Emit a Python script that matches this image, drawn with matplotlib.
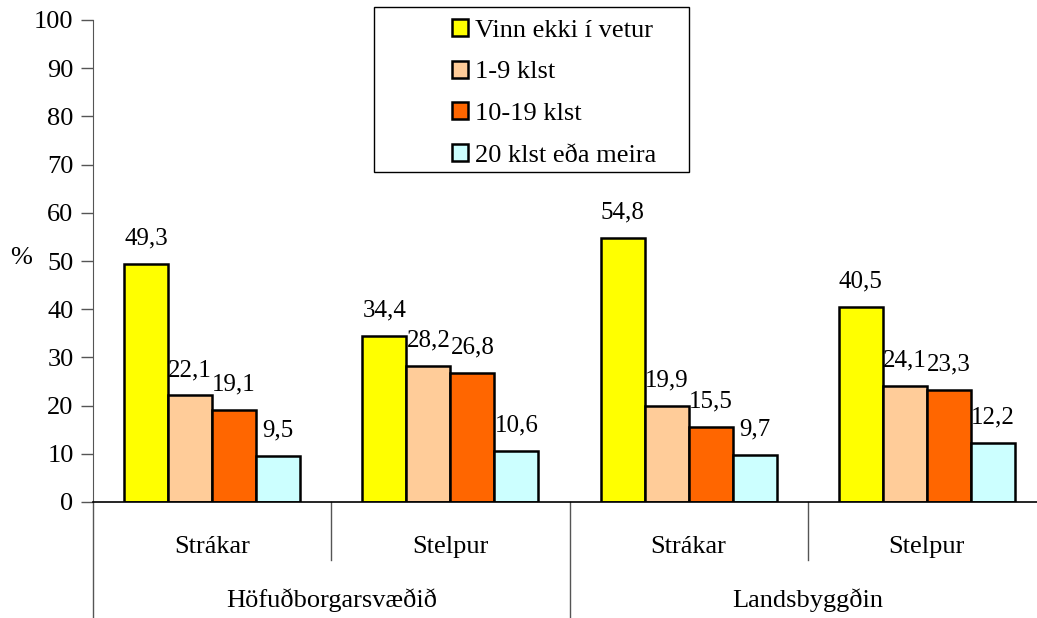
import matplotlib.pyplot as plt
from matplotlib.patches import Rectangle
import numpy as np

# Datos
grupos = ['Strákar', 'Stelpur', 'Strákar', 'Stelpur']
regiones = ['Höfuðborgarsvæðið', 'Landsbyggðin']
series = ['Vinn ekki í vetur', '1-9 klst', '10-19 klst', '20 klst eða meira']
vinn_ekki = [49.3, 34.4, 54.8, 40.5]
klst_1_9 = [22.1, 28.2, 19.9, 24.1]
klst_10_19 = [19.1, 26.8, 15.5, 23.3]
klst_20 = [9.5, 10.6, 9.7, 12.2]
colores = ['#FFFF00', '#FFCC99', '#FF6600', '#CCFFFF']

plt.rcParams['font.family'] = ['Liberation Serif', 'DejaVu Serif']

fig = plt.figure(figsize=(10.37, 6.18), dpi=100)
ax = fig.add_axes([93 / 1037, 116 / 618, 953 / 1037, 482 / 618])

x = np.arange(len(grupos))
w = 44 / 238
valores = [vinn_ekki, klst_1_9, klst_10_19, klst_20]
for i, (vals, col, lab) in enumerate(zip(valores, colores, series)):
    pos = x + (i - 1.5) * w
    ax.bar(pos, vals, w, color=col, edgecolor='black', linewidth=1.8, label=lab)
    for p, v in zip(pos, vals):
        ax.text(p, v + 3, f'{v:.1f}'.replace('.', ','), ha='center', va='bottom', fontsize=18)

ax.set_xlim(-0.5, 3.5)
ax.set_ylim(0, 100)
ax.set_yticks(range(0, 101, 10))
ax.tick_params(axis='y', labelsize=19, length=9, width=1, color='#555555', pad=5)
ax.set_xticks([])
for s in ['top', 'right']:
    ax.spines[s].set_visible(False)
ax.spines['left'].set_color('#555555')
ax.spines['bottom'].set_linewidth(1.2)

ax.set_ylabel('%', rotation=0, fontsize=19, va='center', ha='center')
ax.yaxis.set_label_coords(-0.075, 0.506)

# separadores y etiquetas de categorías
trans = ax.get_xaxis_transform()
ax.plot([-0.5, -0.5], [0, -0.245], color='#555555', lw=1, transform=trans, clip_on=False)
ax.plot([1.5, 1.5], [0, -0.245], color='#555555', lw=1, transform=trans, clip_on=False)
for xs in [0.5, 2.5]:
    ax.plot([xs, xs], [0, -0.12], color='#555555', lw=1, transform=trans, clip_on=False)
for xi, g in zip(x, grupos):
    ax.text(xi, -0.093, g, ha='center', va='center', fontsize=19, transform=trans)
for j, r in enumerate(regiones):
    ax.text(2 * j + 0.5, -0.203, r, ha='center', va='center', fontsize=19, transform=trans)

# leyenda
fig.patches.append(Rectangle((374 / 1037, 1 - 172 / 618), 315 / 1037, 165 / 618,
                             transform=fig.transFigure, fill=False, edgecolor='black', lw=1))
leg = fig.legend(loc='upper left', bbox_to_anchor=(452 / 1037, 1 - 19 / 618), frameon=False,
                 fontsize=19, handlelength=0.62, handleheight=0.62, handletextpad=0.25,
                 labelspacing=0.71, borderpad=0.0, borderaxespad=0.0)

fig.savefig('out.png', dpi=100)
